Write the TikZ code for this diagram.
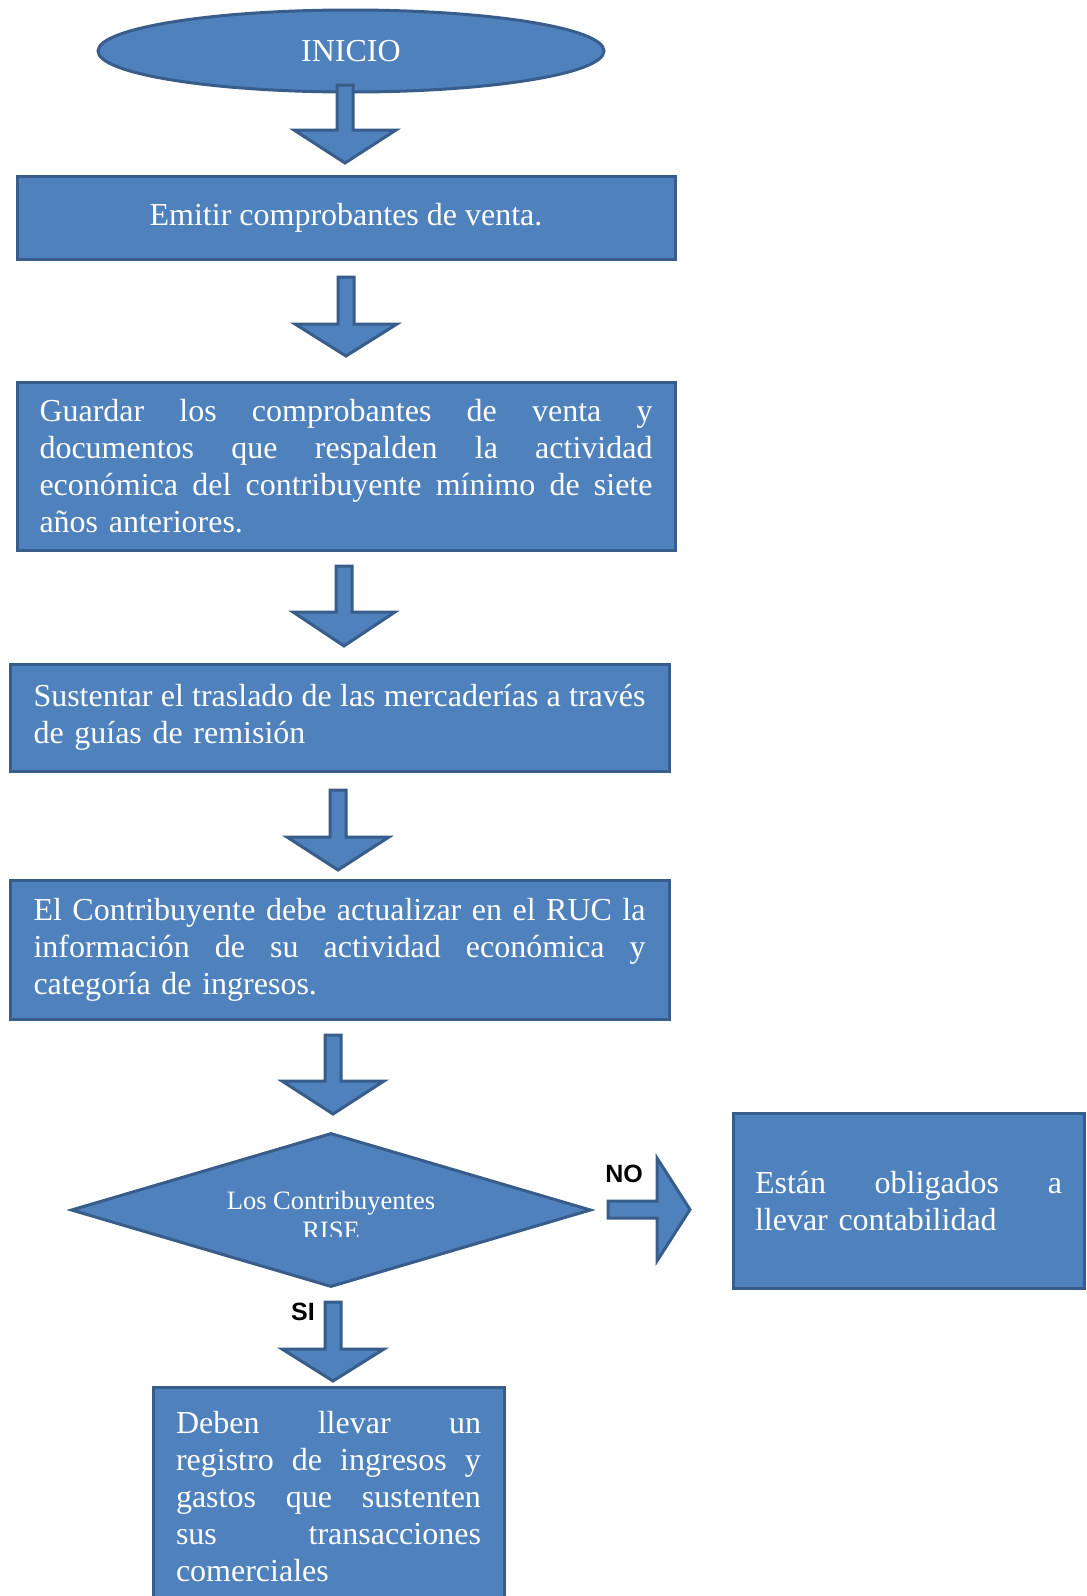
\documentclass[tikz,border=0pt]{standalone}
\usepackage{fontspec}
\setmainfont{Liberation Serif}
\newfontfamily\labelfont{Liberation Sans}
\usetikzlibrary{shapes.geometric}
\definecolor{boxfill}{HTML}{4F81BD}
\definecolor{boxline}{HTML}{385D8A}

% one justified line of a given width (interword glue stretches to fill it)
\newcommand\jl[2]{\makebox[#1pt][s]{\spaceskip=0pt\xspaceskip=0pt #2}}
% downward block arrow: x, shaft top, head top, tip
\newcommand\downblock[4]{%
  \draw[blockarrow] (#1-8,#2) -- (#1+8,#2) -- (#1+8,#3) -- (#1+51,#3)
    -- (#1,#4) -- (#1-51,#3) -- (#1-8,#3) -- cycle;}

\begin{document}
\begin{tikzpicture}[x=1pt,y=-1pt,
  shapebase/.style={fill=boxfill, draw=boxline, line width=3pt},
  blockarrow/.style={shapebase},
  boxstyle/.style={shapebase, rectangle, inner sep=0pt, text=white,
    font={\fontsize{32}{37}\selectfont}},
  yesno/.style={font={\labelfont\bfseries\fontsize{25}{30}\selectfont}, inner sep=0pt}]

\fill[white] (0,0) rectangle (1087,1596);
\useasboundingbox (0,0) rectangle (1087,1596);

% start
\node[ellipse, shapebase, minimum width=506, minimum height=82, inner sep=0pt,
  text=white, font={\fontsize{32}{37}\selectfont}] (inicio) at (351,51) {INICIO};
\downblock{345}{85}{130}{163}

\node[boxstyle, minimum width=658, minimum height=83] (emitir) at (346,218)
  {\raisebox{-3pt}{Emitir comprobantes de venta.}};
\downblock{346}{277}{324}{356}

\node[boxstyle, minimum width=658, minimum height=168, text width=613, align=left]
  (guardar) at (346,466)
  {\jl{613}{Guardar los comprobantes de venta y}\\
   \jl{613}{documentos que respalden la actividad}\\
   \jl{613}{económica del contribuyente mínimo de siete}\\
   años anteriores.};
\downblock{344}{566}{612}{646}

\node[boxstyle, minimum width=659, minimum height=107, text width=612, align=left]
  (sustentar) at (339.5,717.5)
  {\jl{612}{Sustentar el traslado de las mercaderías a través}\\
   de guías de remisión};
\downblock{338}{790}{837}{870}

\node[boxstyle, minimum width=659, minimum height=139, text width=612, align=left]
  (actualizar) at (339.5,949.5)
  {\jl{612}{El Contribuyente debe actualizar en el RUC la}\\
   \jl{612}{información de su actividad económica y}\\
   categoría de ingresos.};
\downblock{333}{1035}{1081}{1114}

% decision
\node[diamond, shapebase, minimum width=520, minimum height=154, inner sep=0pt]
  (rise) at (331,1210) {};
\begin{scope}
  \clip (0,1100) rectangle (1087,1236);
  \node[text=white, align=center, inner sep=0pt,
    font={\fontsize{26.5}{30}\selectfont}] (risetext) at (331,1215)
    {Los Contribuyentes\\RISE};
\end{scope}

% NO branch
\draw[blockarrow] (608,1201) -- (657,1201) -- (657,1158) -- (690,1209.5)
  -- (657,1261) -- (657,1218) -- (608,1218) -- cycle;
\node[yesno] (no) at (624,1174) {NO};
\node[boxstyle, minimum width=351, minimum height=175, text width=307, align=left]
  (obligados) at (908.5,1201)
  {\jl{307}{Están obligados a}\\
   llevar contabilidad};

% SI branch
\downblock{333}{1302}{1349}{1381}
\node[yesno] (si) at (303,1312) {SI};
\node[boxstyle, minimum width=351, minimum height=219, text width=305, align=left]
  (registro) at (328.5,1496.5)
  {\jl{305}{Deben llevar un}\\
   \jl{305}{registro de ingresos y}\\
   \jl{305}{gastos que sustenten}\\
   \jl{305}{sus transacciones}\\
   comerciales};
\end{tikzpicture}
\end{document}
